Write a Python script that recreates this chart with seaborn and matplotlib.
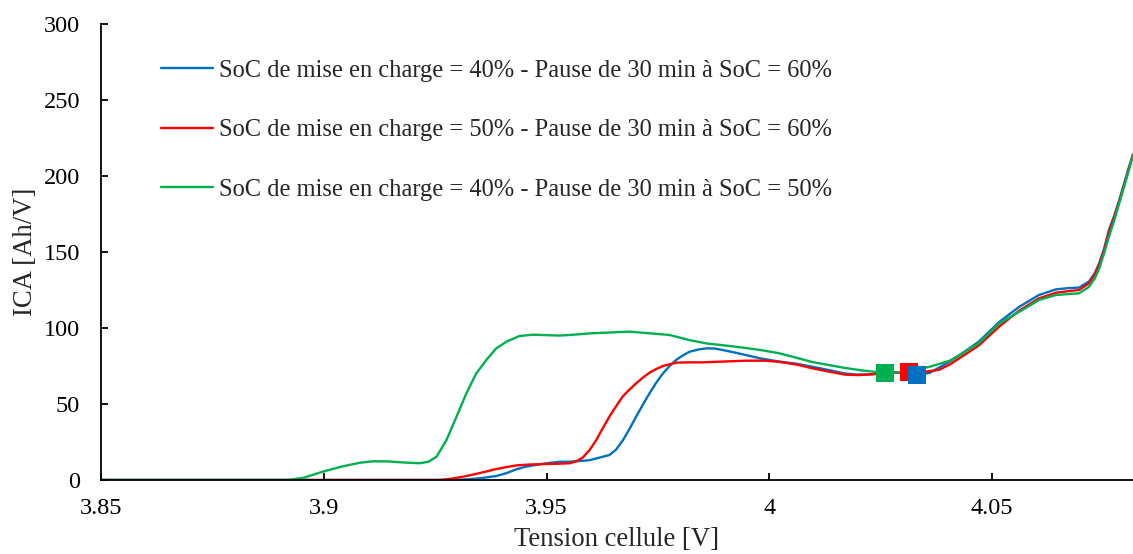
import matplotlib
matplotlib.use("Agg")
import matplotlib.pyplot as plt
import seaborn as sns
import pandas as pd
from matplotlib.ticker import FuncFormatter

# ---------------- data ----------------
labels = [
    "SoC de mise en charge = 40% - Pause de 30 min à SoC = 60%",
    "SoC de mise en charge = 50% - Pause de 30 min à SoC = 60%",
    "SoC de mise en charge = 40% - Pause de 30 min à SoC = 50%",
]
colors = ["#0070C0", "#FF0000", "#00B050"]

blue_v = [3.85, 3.930, 3.9327, 3.9355, 3.9387, 3.941, 3.9432, 3.945, 3.9469, 3.950, 3.9529,
          3.9552, 3.9596, 3.9641, 3.9656, 3.9671, 3.9686, 3.9701, 3.9716, 3.9731, 3.9746,
          3.9761, 3.9776, 3.9791, 3.9806, 3.9821, 3.984, 3.9858, 3.9877, 3.9895, 3.992,
          3.995, 3.998, 4.002, 4.006, 4.0096, 4.013, 4.017, 4.020, 4.023, 4.026, 4.029,
          4.0332, 4.036, 4.0381, 4.0405, 4.0426, 4.047, 4.0516, 4.0561, 4.0605, 4.0643,
          4.067, 4.0695, 4.0717, 4.073, 4.074, 4.0751, 4.0762, 4.0774, 4.0785, 4.0807, 4.0816]
blue_ica = [0, 0, 0.5, 1.3, 2.6, 4.5, 7, 8.5, 9.6, 11, 12,
            12, 13, 16.4, 20, 26, 33.5, 41.7, 49.5, 57, 64,
            70, 75, 79, 82, 84.4, 85.8, 86.6, 86.5, 85.5, 84,
            82, 80, 78, 76.5, 74.5, 72.5, 70, 69.3, 69.6, 70.5, 70.5,
            69, 70.5, 74, 78, 82, 91, 104, 114, 121.7, 125.4,
            126.2, 126.6, 130.5, 136, 142.5, 152, 164.5, 174, 184, 206, 214]

red_v = [3.85, 3.926, 3.929, 3.9315, 3.9342, 3.9365, 3.9387, 3.941, 3.9432, 3.9465, 3.9499,
         3.9525, 3.9552, 3.9566, 3.9581, 3.9596, 3.9611, 3.9626, 3.9641, 3.9656, 3.9671,
         3.9686, 3.9701, 3.9716, 3.9731, 3.9746, 3.9761, 3.9791, 3.982, 3.985, 3.9903,
         3.995, 3.999, 4.002, 4.006, 4.0096, 4.013, 4.017, 4.020, 4.023, 4.026, 4.0314,
         4.035, 4.0381, 4.0405, 4.0426, 4.047, 4.0516, 4.0561, 4.0605, 4.0643, 4.067,
         4.0695, 4.0717, 4.073, 4.074, 4.0751, 4.0762, 4.0774, 4.0785, 4.0807, 4.0816]
red_ica = [0, 0, 1, 2.3, 4, 5.6, 7.2, 8.5, 9.6, 10.2, 10.5,
           10.7, 11, 12.2, 14.7, 19.5, 26, 34, 41.7, 48.5, 55,
           59.5, 63.6, 67.3, 70.6, 73, 75, 77.2, 77.4, 77.4, 78,
           78.5, 78.5, 77.8, 76, 73.5, 71.5, 69.3, 69, 69.5, 70.3, 71,
           71.2, 72.5, 76, 80, 88.5, 101, 111.5, 119.5, 123.2, 124.2,
           125, 129.4, 135, 141.4, 151, 163, 173, 183, 205, 214]

green_v = [3.85, 3.892, 3.8955, 3.8998, 3.904, 3.908, 3.911, 3.9145, 3.918, 3.9215, 3.9235,
           3.9253, 3.9275, 3.9298, 3.932, 3.9342, 3.9365, 3.9387, 3.941, 3.9439, 3.9469,
           3.9529, 3.9552, 3.960, 3.9686, 3.9776, 3.9821, 3.986, 3.9903, 3.9948, 3.998,
           4.002, 4.006, 4.0096, 4.013, 4.017, 4.021, 4.026, 4.029, 4.032, 4.036, 4.0405,
           4.0426, 4.047, 4.0516, 4.0561, 4.0605, 4.0643, 4.067, 4.0695, 4.0717, 4.073,
           4.074, 4.0751, 4.0762, 4.0774, 4.0785, 4.0807, 4.0816]
green_ica = [0, 0, 1.5, 5.5, 8.8, 11.3, 12.3, 12.2, 11.5, 11, 12,
             15.3, 26, 41.7, 57, 70, 79, 86.6, 91, 94.7, 95.6,
             95, 95.4, 96.5, 97.6, 95.4, 92, 89.8, 88.4, 86.8, 85.5,
             83.5, 80.5, 77.6, 75.8, 73.7, 72, 70.4, 70.8, 72, 74.5, 78.5,
             82, 90, 103, 110.7, 118.4, 121.7, 122.3, 122.8, 127, 132.5,
             139, 149, 160, 171, 182, 204, 214]

# pause markers (voltage, ICA) for blue, red, green
pause_v = [4.0332, 4.0314, 4.0260]
pause_ica = [69, 71, 70.4]

x_ticks = [3.85, 3.9, 3.95, 4.0, 4.05]
y_ticks = [0, 50, 100, 150, 200, 250, 300]

# ---------------- plot ----------------
sns.set_style("ticks")
plt.rcParams["font.family"] = ["Liberation Serif", "DejaVu Serif"]
TICK_FS = 17.5
LEG_FS = 17.65
TITLE_FS = 19.2

fig = plt.figure(figsize=(11.33, 5.54), dpi=100)
ax = fig.add_axes([0.0891, 0.1336, 0.9109, 0.8231])

series = [(blue_v, blue_ica), (red_v, red_ica), (green_v, green_ica)]
for (v, y), lab, col in zip(series, labels, colors):
    df = pd.DataFrame({"v": v, "ica": y})
    sns.lineplot(data=df, x="v", y="ica", ax=ax, color=col, linewidth=1.7,
                 label=lab, sort=True, solid_joinstyle="round", solid_capstyle="round")

# markers: green first, then red, then blue on top
for i in [2, 1, 0]:
    mdf = pd.DataFrame({"v": [pause_v[i]], "ica": [pause_ica[i]]})
    sns.scatterplot(data=mdf, x="v", y="ica", ax=ax, color=colors[i], marker="s",
                    s=150, linewidth=0, zorder=5, legend=False)

ax.set_xlim(3.85, 4.0816)
ax.set_ylim(0, 300)
ax.set_xticks(x_ticks)
ax.set_yticks(y_ticks)
ax.xaxis.set_major_formatter(FuncFormatter(lambda v, p: f"{v:g}"))
ax.tick_params(direction="in", length=5, width=1.3, labelsize=TICK_FS, colors="black")
ax.tick_params(axis="x", pad=13)
ax.tick_params(axis="y", pad=15)
for s in ["top", "right"]:
    ax.spines[s].set_visible(False)
for s in ["left", "bottom"]:
    ax.spines[s].set_linewidth(1.3)
    ax.spines[s].set_color("black")

ax.set_xlabel("Tension cellule [V]", fontsize=TITLE_FS, labelpad=6)
ax.set_ylabel("ICA [Ah/V]", fontsize=TITLE_FS, labelpad=4)

leg = ax.legend(loc="upper left", bbox_to_anchor=(0.0585, 0.922), frameon=False,
                fontsize=LEG_FS, handlelength=2.1, handletextpad=0.25, labelspacing=1.52,
                borderpad=0, borderaxespad=0)
for h in leg.get_lines():
    h.set_linewidth(1.7)

fig.savefig("out.png", dpi=100)
